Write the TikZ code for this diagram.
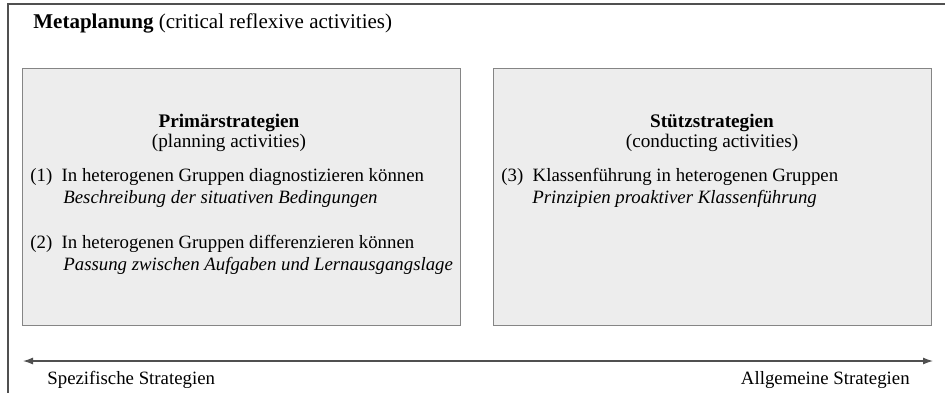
\documentclass[tikz,border=0pt]{standalone}
\usepackage{fontspec}
\setmainfont{Liberation Serif}
\usetikzlibrary{arrows.meta}
\definecolor{boxfill}{HTML}{EDEDED}
\definecolor{boxline}{HTML}{858585}
\definecolor{frameline}{HTML}{505050}
\begin{document}
\begin{tikzpicture}[x=0.5pt,y=-0.5pt]
    \tikzstyle{stratbox}=[rectangle, draw=boxline, fill=boxfill, line width=0.5pt, inner sep=0pt, minimum width=219pt, minimum height=128.5pt]
    \tikzstyle{txt}=[anchor=base west, inner sep=0pt, font=\fontsize{9.4}{11}\selectfont]
    \tikzstyle{head}=[anchor=base, inner sep=0pt, font=\fontsize{9.6}{11}\selectfont]
    \tikzstyle{axislabel}=[anchor=base west, inner sep=0pt, font=\fontsize{9.4}{11}\selectfont]
    \useasboundingbox (0,0) rectangle (945,393);
    % outer frame, open at right and bottom
    \coordinate (frameTL) at (8,4);
    \draw[frameline, line width=0.75pt] (945,4) -- (frameTL) -- (8,393);
    \node[txt, font=\fontsize{10.5}{12}\selectfont] (meta) at (33,28) {\textbf{Metaplanung} (critical reflexive activities)};
    % the two strategy boxes
    \node[stratbox] (prim) at (241,196.5) {};
    \node[stratbox] (stuetz) at (712,196.5) {};
    \node[head] (primT) at (229,127) {\textbf{Primärstrategien}};
    \node[head] (primS) at (229,147) {(planning activities)};
    \node[txt] (p1) at (30,181) {(1)\hspace{0.25em} In heterogenen Gruppen diagnostizieren können};
    \node[txt] (p1i) at (63,203) {\itshape Beschreibung der situativen Bedingungen};
    \node[txt] (p2) at (30,248) {(2)\hspace{0.25em} In heterogenen Gruppen differenzieren können};
    \node[txt] (p2i) at (63,270) {\itshape Passung zwischen Aufgaben und Lernausgangslage};
    \node[head] (stuetzT) at (712,127) {\textbf{Stützstrategien}};
    \node[head] (stuetzS) at (712,147) {(conducting activities)};
    \node[txt] (s3) at (501,181) {(3)\hspace{0.25em} Klassenführung in heterogenen Gruppen};
    \node[txt] (s3i) at (532,203) {\itshape Prinzipien proaktiver Klassenführung};
    % axis from specific to general strategies
    \coordinate (axL) at (23,361);
    \coordinate (axR) at (933,361);
    \draw[{Latex[length=5pt,width=3.5pt]}-{Latex[length=5pt,width=3.5pt]}, frameline, line width=0.6pt] (axL) -- (axR);
    \node[axislabel] (spez) at (47,384) {Spezifische Strategien};
    \node[axislabel, anchor=base east] (allg) at (910,384) {Allgemeine Strategien};
\end{tikzpicture}
\end{document}
